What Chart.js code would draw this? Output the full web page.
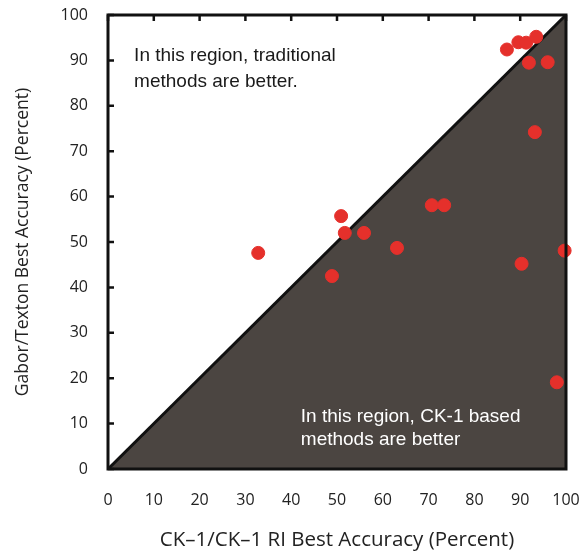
<!DOCTYPE html>
<html><head><meta charset="utf-8">
<script src="https://cdn.jsdelivr.net/npm/chart.js@4"></script>
<style>html,body{margin:0;padding:0;background:#fff}#wrap{width:579px;height:552px}</style>
</head><body><div id="wrap"><canvas id="c" width="579" height="552"></canvas></div>
<script>
const ckAccuracy = [32.8, 48.9, 50.9, 51.7, 55.9, 63.1, 70.7, 73.4, 87.1, 89.6, 91.3, 93.5, 91.9, 96.0, 93.2, 90.3, 99.7, 98.0];
const gaborAccuracy = [47.6, 42.5, 55.7, 52.0, 52.0, 48.7, 58.1, 58.1, 92.4, 94.0, 93.9, 95.2, 89.5, 89.6, 74.2, 45.2, 48.1, 19.1];
const diagonal = [0, 100];
const tickValues = [0,10,20,30,40,50,60,70,80,90,100];
const upperText = ["In this region, traditional", "methods are better."];
const lowerText = ["In this region, CK-1 based", "methods are better"];

const points = ckAccuracy.map((x,i)=>({x, y: gaborAccuracy[i]}));
const diag = diagonal.map(v=>({x:v, y:v}));

const frame = {
  id:'frame',
  afterDatasetsDraw(chart){
    const {ctx, chartArea:a, scales} = chart;
    ctx.save();
    ctx.strokeStyle = '#111'; ctx.lineWidth = 2.5;
    ctx.beginPath();
    tickValues.forEach(v=>{
      const y = scales.y.getPixelForValue(v);
      ctx.moveTo(a.left, y); ctx.lineTo(a.left+6, y);
      const x = scales.x.getPixelForValue(v);
      ctx.moveTo(x, a.top); ctx.lineTo(x, a.top+6);
    });
    ctx.stroke();
    ctx.lineWidth = 3;
    ctx.strokeRect(a.left, a.top, a.right-a.left, a.bottom-a.top);
    ctx.font = '19px "Liberation Sans", Arial, sans-serif';
    ctx.textBaseline = 'alphabetic';
    ctx.fillStyle = '#1a1a1a';
    const upY = [89.9, 84.2], lowY = [10.4, 5.3];
    upperText.forEach((t,i)=>ctx.fillText(t, scales.x.getPixelForValue(5.7), scales.y.getPixelForValue(upY[i])));
    ctx.fillStyle = '#ffffff';
    lowerText.forEach((t,i)=>ctx.fillText(t, scales.x.getPixelForValue(42.1), scales.y.getPixelForValue(lowY[i])));
    ctx.restore();
  }
};

new Chart(document.getElementById('c'), {
  type:'scatter',
  data:{datasets:[
    {data:points, backgroundColor:'#e5302b', borderColor:'#e5302b', pointRadius:6.5, pointHoverRadius:6.5, clip:false, order:0},
    {data:diag, showLine:true, borderColor:'#111', borderWidth:3, pointRadius:0, fill:'start', backgroundColor:'#4b4541', order:1}
  ]},
  options:{
    responsive:false, animation:false, events:[],
    layout:{padding:{top:15, right:13, left:0, bottom:0}},
    plugins:{legend:{display:false}, tooltip:{enabled:false}},
    scales:{
      x:{type:'linear', min:0, max:100,
        afterBuildTicks(s){ s.ticks = tickValues.map(v=>({value:v})); },
        afterFit(s){ s.height = 83; s.paddingLeft = 0; s.paddingRight = 0; },
        grid:{display:false}, border:{display:false},
        ticks:{padding:14, color:'#222', font:{size:16, family:'"Open Sans", sans-serif'}},
        title:{display:true, text:'CK\u20131/CK\u20131 RI Best Accuracy (Percent)', color:'#222', font:{size:20.5, family:'"Open Sans", sans-serif'}, padding:{top:10, bottom:0}}
      },
      y:{type:'linear', min:0, max:100,
        afterBuildTicks(s){ s.ticks = tickValues.map(v=>({value:v})); },
        afterFit(s){ s.width = 108; s.paddingTop = 0; s.paddingBottom = 0; },
        grid:{display:false}, border:{display:false},
        ticks:{padding:12, color:'#222', font:{size:16, family:'"Open Sans", sans-serif'}},
        title:{display:true, text:'Gabor/Texton Best Accuracy (Percent)', color:'#222', font:{size:17.5, family:'"Open Sans", sans-serif'}, padding:{top:13, bottom:4}}
      }
    }
  },
  plugins:[frame]
});
</script></body></html>
